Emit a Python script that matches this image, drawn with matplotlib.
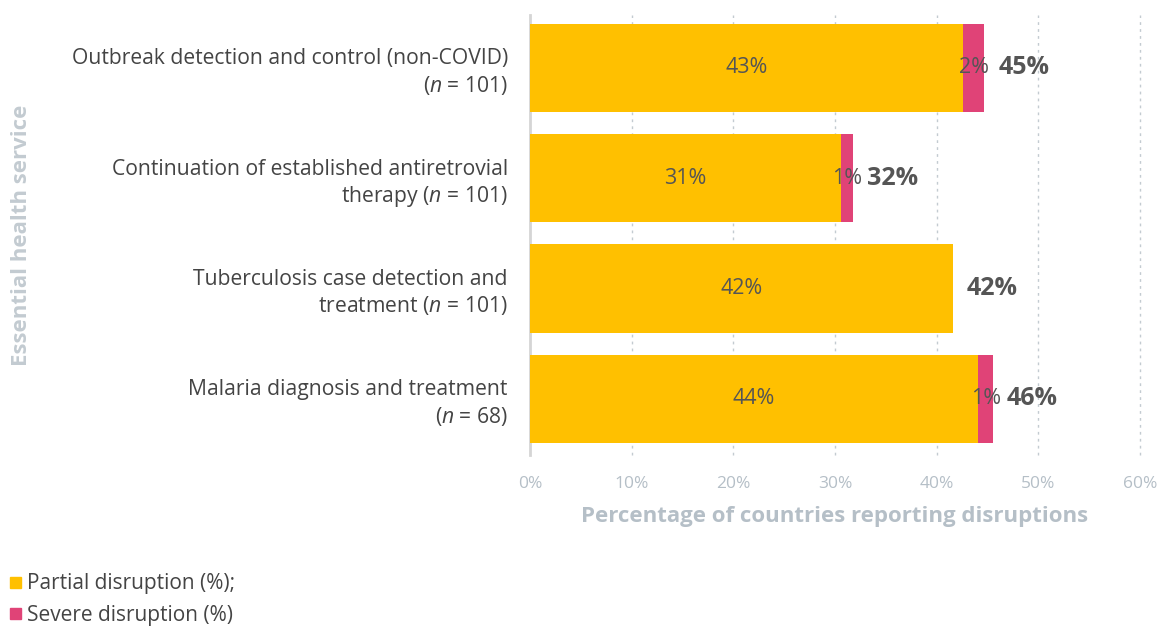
import numpy as np
import matplotlib
matplotlib.use("Agg")
import matplotlib.pyplot as plt
from matplotlib.patches import Rectangle

plt.rcParams["font.family"] = ["Open Sans", "DejaVu Sans"]
plt.rcParams["mathtext.fontset"] = "custom"
plt.rcParams["mathtext.rm"] = "Open Sans"
plt.rcParams["mathtext.it"] = "Open Sans:italic"

# data
services = [
    "Outbreak detection and control (non-COVID)\n($\\it{n}$ = 101)",
    "Continuation of established antiretrovial\ntherapy ($\\it{n}$ = 101)",
    "Tuberculosis case detection and\ntreatment ($\\it{n}$ = 101)",
    "Malaria diagnosis and treatment\n($\\it{n}$ = 68)",
]
partial = [42.6, 30.6, 41.6, 44.1]
severe = [2.1, 1.2, 0.0, 1.45]
x_ticks = [0, 10, 20, 30, 40, 50, 60]

YELLOW = "#FFC000"
PINK = "#E04377"
TEXT = "#555555"
AXIS_GRAY = "#B5BFC7"

fig = plt.figure(figsize=(11.63, 6.28), dpi=100)
ax = fig.add_axes([530 / 1163, 1 - 455 / 628, 610 / 1163, 440 / 628])

y = np.arange(len(services))
partial = np.array(partial)
severe = np.array(severe)
total = partial + severe

ax.barh(y, partial, height=0.8, color=YELLOW, zorder=3)
ax.barh(y, severe, left=partial, height=0.8, color=PINK, zorder=3)

for i in range(len(services)):
    ax.text(partial[i] / 2, y[i], f"{round(partial[i])}%", ha="center",
            va="center", fontsize=15.5, color=TEXT, zorder=4)
    if severe[i] > 0:
        ax.text(partial[i] + severe[i] / 2, y[i], f"{round(severe[i])}%",
                ha="center", va="center", fontsize=15.5, color=TEXT, zorder=4)
    ax.text(total[i] + 1.35, y[i], f"{round(total[i])}%", ha="left",
            va="center", fontsize=18, fontweight="bold", color=TEXT, zorder=4)

ax.set_xlim(0, 60)
ax.set_ylim(3.51, -0.48)
ax.set_xticks(x_ticks)
ax.set_xticklabels([f"{t}%" for t in x_ticks])
ax.set_yticks(y)
ax.set_yticklabels(services, fontsize=15.2, color="#444444", ha="right",
                   linespacing=1.25)
ax.tick_params(axis="y", length=0, pad=16)
ax.tick_params(axis="x", length=0, pad=15, labelsize=12.5, labelcolor=AXIS_GRAY)

for t in x_ticks[1:]:
    ax.axvline(t, color="#C3CBD1", linestyle=(0, (2, 3)), linewidth=1,
               clip_on=False, zorder=0)
for s in ["top", "right", "bottom"]:
    ax.spines[s].set_visible(False)
ax.spines["left"].set_color("#D5D5D5")
ax.spines["left"].set_linewidth(2)

ax.set_xlabel("Percentage of countries reporting disruptions", fontsize=16,
              fontweight="bold", color=AXIS_GRAY, labelpad=10)
fig.text(22 / 1163, 1 - 235 / 628, "Essential health service", rotation=90,
         ha="center", va="center", fontsize=16, fontweight="bold",
         color="#C3CBD1")

# legend drawn by hand, bottom-left
for k, (lab, col) in enumerate([("Partial disruption (%);", YELLOW),
                                ("Severe disruption (%)", PINK)]):
    yy = 1 - (584 + 31 * k) / 628
    fig.patches.append(Rectangle((10 / 1163, yy - 0.007), 11 / 1163, 0.0175,
                                 transform=fig.transFigure, color=col))
    fig.text(27 / 1163, yy, lab, ha="left", va="center", fontsize=15,
             color="#444444")

fig.savefig("out.png", dpi=100)
